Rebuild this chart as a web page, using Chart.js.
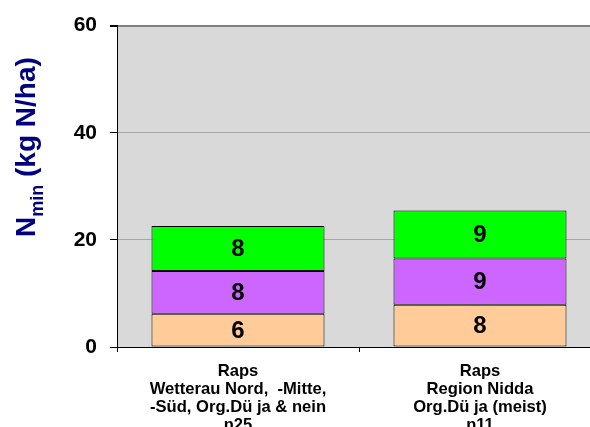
<!DOCTYPE html>
<html><head><meta charset="utf-8">
<script src="https://cdn.jsdelivr.net/npm/chart.js@4/dist/chart.umd.min.js"></script>
<style>html,body{margin:0;padding:0;overflow:hidden;background:#fff;width:590px;height:427px}
#wrap{width:612px;height:427px}</style>
</head><body><div id="wrap"><canvas id="c" width="612" height="427"></canvas></div>
<script>
const categories = [
  ["Raps","Wetterau Nord,  -Mitte,","-Süd, Org.Dü ja & nein","n25"],
  ["Raps","Region Nidda","Org.Dü ja (meist)","n11"]
];
const seriesBottom = [6.2, 7.9];
const seriesMiddle = [8.0, 8.6];
const seriesTop = [8.4, 9.0];
const yTicks = [0, 20, 40, 60];

const FONT = "'Liberation Sans', Arial, sans-serif";

const bgPlugin = {
  id: 'bg',
  beforeDraw(chart) {
    const a = chart.chartArea, ctx = chart.ctx;
    ctx.save();
    ctx.fillStyle = '#d9d9d9';
    ctx.fillRect(a.left, a.top, a.right - a.left, a.bottom - a.top);
    ctx.restore();
  }
};
const labelPlugin = {
  id: 'vals',
  afterDatasetsDraw(chart) {
    const ctx = chart.ctx;
    ctx.save();
    ctx.font = 'bold 24px ' + FONT;
    ctx.fillStyle = '#000';
    ctx.textAlign = 'center';
    ctx.textBaseline = 'middle';
    chart.data.datasets.forEach((ds, i) => {
      chart.getDatasetMeta(i).data.forEach((el, j) => {
        ctx.fillText(String(Math.round(ds.data[j])), el.x, (el.y + el.base) / 2 + 1);
      });
    });
    ctx.restore();
  }
};
const titlePlugin = {
  id: 'ytitle',
  afterDraw(chart) {
    const ctx = chart.ctx;
    ctx.save();
    ctx.translate(35, 237);
    ctx.rotate(-Math.PI / 2);
    ctx.fillStyle = '#000080';
    ctx.textBaseline = 'alphabetic';
    ctx.textAlign = 'left';
    let x = 0;
    ctx.font = 'bold 28px ' + FONT;
    ctx.fillText('N', x, 0);
    x += ctx.measureText('N').width;
    ctx.font = 'bold 18px ' + FONT;
    ctx.fillText('min', x, 8);
    x += ctx.measureText('min').width;
    ctx.font = 'bold 28px ' + FONT;
    ctx.fillText(' (kg N/ha)', x, 0);
    ctx.restore();
  }
};

new Chart(document.getElementById('c'), {
  type: 'bar',
  data: {
    labels: categories,
    datasets: [
      { data: seriesBottom, backgroundColor: '#ffcc99', borderColor: '#000', borderWidth: 1, borderSkipped: false },
      { data: seriesMiddle, backgroundColor: '#cc66ff', borderColor: '#000', borderWidth: 1, borderSkipped: false },
      { data: seriesTop, backgroundColor: '#00ff00', borderColor: '#000', borderWidth: 1, borderSkipped: false }
    ]
  },
  options: {
    responsive: false,
    animation: false,
    events: [],
    layout: { padding: { left: 0, top: 24, right: 11, bottom: 0 } },
    datasets: { bar: { categoryPercentage: 0.715, barPercentage: 1 } },
    plugins: { legend: { display: false }, tooltip: { enabled: false } },
    scales: {
      x: {
        stacked: true,
        offset: true,
        afterFit(s) { s.height = 80; },
        grid: { display: true, drawOnChartArea: false, offset: true, tickLength: 5, tickColor: '#000' },
        border: { color: '#000', width: 1 },
        ticks: { color: '#000', padding: 10, maxRotation: 0, autoSkip: false,
          font: { family: FONT, size: 16.6, weight: 'bold', lineHeight: 1.085 } }
      },
      y: {
        stacked: true,
        min: 0, max: 60,
        afterFit(s) { s.width = 117; },
        afterBuildTicks(s) { s.ticks = yTicks.map(v => ({ value: v })); },
        grid: {
          tickLength: 7, tickColor: '#000',
          color: ctx => ctx.tick && ctx.tick.value === 60 ? '#808080' : (ctx.tick && ctx.tick.value === 0 ? 'rgba(0,0,0,0)' : '#a6a6a6'),
          lineWidth: ctx => ctx.tick && ctx.tick.value === 60 ? 2 : 1
        },
        border: { color: '#000', width: 1 },
        ticks: { color: '#000', padding: 13, font: { family: FONT, size: 21, weight: 'bold' } }
      }
    }
  },
  plugins: [bgPlugin, labelPlugin, titlePlugin]
});
</script>
</body></html>
